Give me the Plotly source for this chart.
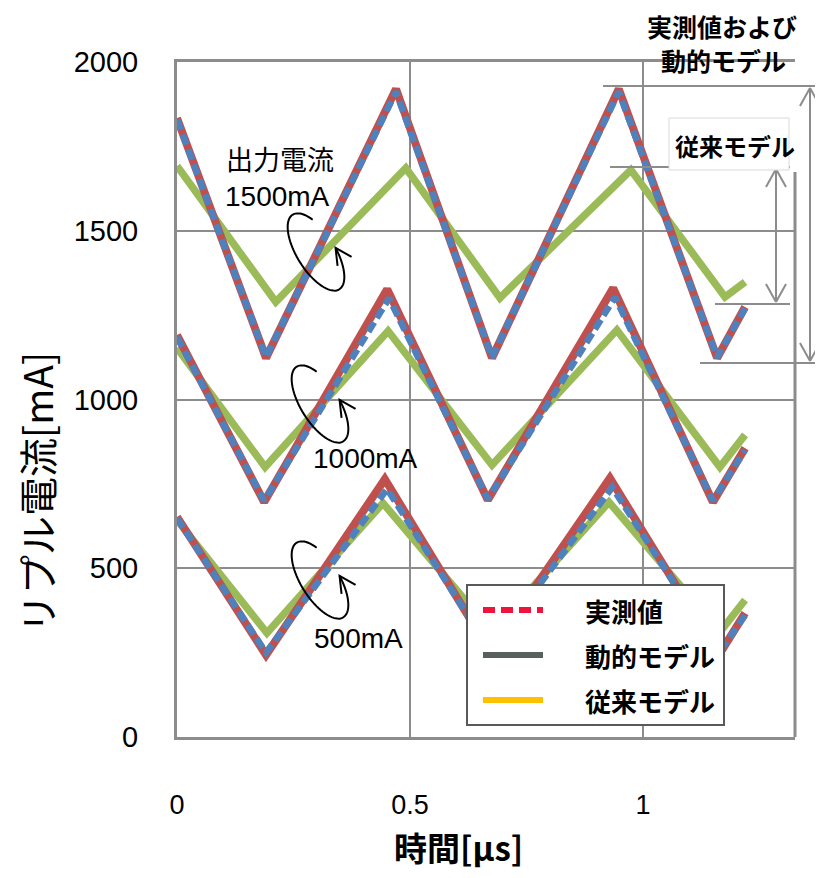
import numpy as np
import plotly.graph_objects as go

# ---------------- data ----------------
# time [us], ripple current [mA]
t_meas_1500 = [0, 0.191, 0.470, 0.676, 0.948, 1.159, 1.219]
i_meas_1500 = [1834, 1123, 1920, 1123, 1920, 1123, 1274]
t_dyn_1500 = [0, 0.191, 0.470, 0.676, 0.948, 1.159, 1.219]
i_dyn_1500 = [1830, 1125, 1912, 1125, 1912, 1125, 1270]
t_conv_1500 = [0, 0.212, 0.491, 0.693, 0.974, 1.176, 1.219]
i_conv_1500 = [1692, 1289, 1686, 1301, 1680, 1304, 1348]

t_meas_1000 = [0, 0.187, 0.451, 0.667, 0.936, 1.150, 1.219]
i_meas_1000 = [1191, 696, 1327, 702, 1330, 696, 856]
t_dyn_1000 = [0, 0.187, 0.455, 0.667, 0.940, 1.150, 1.219]
i_dyn_1000 = [1185, 700, 1300, 705, 1303, 700, 850]
t_conv_1000 = [0, 0.189, 0.453, 0.676, 0.944, 1.165, 1.219]
i_conv_1000 = [1153, 800, 1203, 806, 1206, 800, 895]

t_meas_500 = [0, 0.191, 0.446, 0.672, 0.929, 1.163, 1.219]
i_meas_500 = [652, 243, 764, 252, 767, 243, 367]
t_dyn_500 = [0, 0.191, 0.451, 0.672, 0.934, 1.163, 1.219]
i_dyn_500 = [648, 250, 735, 256, 740, 250, 360]
t_conv_500 = [0, 0.193, 0.442, 0.676, 0.927, 1.165, 1.219]
i_conv_500 = [643, 308, 693, 311, 696, 311, 406]

x_ticks = [0, 0.5, 1]
x_ticktext = ["0", "0.5", "1"]
y_ticks = [0, 500, 1000, 1500, 2000]

legend_names = ["実測値", "動的モデル", "従来モデル"]
legend_colors = ["#F0143C", "#58605F", "#FFC000"]

# ---------------- styling ----------------
RED = "#C0504D"
BLUE = "#4F81BD"
GREEN = "#9BBB59"
GRID = "#8C8C8C"
CJK = "Noto Sans CJK JP"
LAT = "Liberation Sans"
OFF = 8                          # page body margin
W, H = 823 - 2 * OFF, 878 - 2 * OFF
L, R, T, B = 177, 795, 62, 737   # plot area in page pixels
XMAX = 815                       # right edge of drawable page area


def P(px, py):
    return (px - L) / (R - L), (B - py) / (B - T)


fig = go.Figure()

for tc, ic in [(t_conv_1500, i_conv_1500), (t_conv_1000, i_conv_1000), (t_conv_500, i_conv_500)]:
    fig.add_trace(go.Scatter(x=tc, y=ic, mode="lines", line=dict(color=GREEN, width=7.5),
                             showlegend=False, hoverinfo="skip"))
for tm, im in [(t_meas_1500, i_meas_1500), (t_meas_1000, i_meas_1000), (t_meas_500, i_meas_500)]:
    fig.add_trace(go.Scatter(x=tm, y=im, mode="lines", line=dict(color=RED, width=8),
                             showlegend=False, hoverinfo="skip"))
for td, idn in [(t_dyn_1500, i_dyn_1500), (t_dyn_1000, i_dyn_1000), (t_dyn_500, i_dyn_500)]:
    fig.add_trace(go.Scatter(x=td, y=idn, mode="lines", line=dict(color=BLUE, width=6.5, dash="11px,5px"),
                             showlegend=False, hoverinfo="skip"))

shapes = []
annotations = []


def line(x0, y0, x1, y1, color=GRID, width=2):
    a = P(x0, y0)
    b = P(x1, y1)
    shapes.append(dict(type="line", xref="paper", yref="paper", x0=a[0], y0=a[1], x1=b[0], y1=b[1],
                       line=dict(color=color, width=width)))


# right border (partial, as in the reference)
line(R, 172, R, B, GRID, 3)

# loops with arrows around each family of curves
for cx, cy in [(316, 252), (320, 404), (320, 580)]:
    a, b, th = 44, 19, np.deg2rad(58)
    u = np.array([np.cos(th), np.sin(th)])
    v = np.array([-np.sin(th), np.cos(th)])
    ts = np.linspace(1.27 * np.pi, -0.45 * np.pi, 70)
    pts = [np.array([cx, cy]) + a * np.cos(t) * u + b * np.sin(t) * v for t in ts]
    path = ""
    for k, p in enumerate(pts):
        q = P(p[0], p[1])
        path += ("M" if k == 0 else "L") + f"{q[0]:.5f},{q[1]:.5f} "
    shapes.append(dict(type="path", xref="paper", yref="paper", path=path,
                       line=dict(color="black", width=2)))
    tip = pts[-1]
    h1 = P(tip[0] + 16, tip[1] + 9)
    h2 = P(tip[0] + 2, tip[1] + 18)
    tq = P(tip[0], tip[1])
    shapes.append(dict(type="path", xref="paper", yref="paper",
                       path=f"M{h1[0]:.5f},{h1[1]:.5f} L{tq[0]:.5f},{tq[1]:.5f} L{h2[0]:.5f},{h2[1]:.5f}",
                       line=dict(color="black", width=2)))

# amplitude markers on the right
line(603, 86, XMAX, 86)
line(610, 167, 790, 167)
line(715, 304, 790, 304)
line(700, 363, XMAX, 363)
for ax, y0, y1 in [(776, 169, 302), (810, 88, 361)]:
    line(ax, y0, ax, y1)
    line(ax - 10, y0 + 18, ax, y0)
    line(ax + 10, y0 + 18, ax, y0)
    line(ax - 10, y1 - 18, ax, y1)
    line(ax + 10, y1 - 18, ax, y1)

# box behind "従来モデル"
a0 = P(669, 118)
a1 = P(789, 170)
shapes.append(dict(type="rect", xref="paper", yref="paper", x0=a0[0], y0=a1[1], x1=a1[0], y1=a0[1],
                   fillcolor="white", line=dict(color="#D9D9D9", width=1), layer="above"))

# manual legend box
b0 = P(467, 585)
b1 = P(724, 725)
shapes.append(dict(type="rect", xref="paper", yref="paper", x0=b0[0], y0=b1[1], x1=b1[0], y1=b0[1],
                   fillcolor="white", line=dict(color="#595959", width=2), layer="above"))
for k, (name, col) in enumerate(zip(legend_names, legend_colors)):
    yy = 610 + k * 45
    s0 = P(483, yy)
    s1 = P(543, yy)
    shapes.append(dict(type="line", xref="paper", yref="paper", x0=s0[0], y0=s0[1], x1=s1[0], y1=s1[1],
                       line=dict(color=col, width=6, dash="12px,6px" if k == 0 else "solid"), layer="above"))
    tp = P(583, yy)
    annotations.append(dict(text=f"<b>{name}</b>", xref="paper", yref="paper", x=tp[0], y=tp[1],
                            xanchor="left", yanchor="middle", showarrow=False,
                            font=dict(family=CJK, size=26, color="black")))


def text(s, px, py, size, bold=False, anchor="center", family=CJK):
    q = P(px, py)
    annotations.append(dict(text=f"<b>{s}</b>" if bold else s, xref="paper", yref="paper", x=q[0], y=q[1],
                            xanchor=anchor, yanchor="middle", showarrow=False,
                            font=dict(family=family, size=size, color="black")))


text("出力電流", 280, 158, 27)
text("1500mA", 277, 196, 28, family=LAT)
text("1000mA", 365, 458, 28, family=LAT)
text("500mA", 358, 638, 28, family=LAT)
text("実測値および", 722, 26, 25, bold=True)
text("動的モデル", 723, 60, 25, bold=True)
text("従来モデル", 735, 145, 24, bold=True)

# axis titles
q = P(36, 493)
annotations.append(dict(text="リプル電流[mA]", xref="paper", yref="paper", x=q[0], y=q[1],
                        textangle=-90, showarrow=False, xanchor="center", yanchor="middle",
                        font=dict(family=CJK, size=39, color="black")))
q = P(458, 847)
annotations.append(dict(text="<b>時間[µs]</b>", xref="paper", yref="paper", x=q[0], y=q[1],
                        showarrow=False, xanchor="center", yanchor="middle",
                        font=dict(family=CJK, size=33, color="black")))

fig.update_layout(
    width=W, height=H,
    margin=dict(l=L - OFF, r=W - (R - OFF), t=T - OFF, b=H - (B - OFF)),
    paper_bgcolor="white", plot_bgcolor="white",
    showlegend=False,
    shapes=shapes, annotations=annotations,
    xaxis=dict(range=[0, (R - L) / 466], tickvals=x_ticks, ticktext=x_ticktext,
               showgrid=True, gridcolor=GRID, gridwidth=2, zeroline=False,
               showline=True, linecolor=GRID, linewidth=3, mirror=True, ticks="",
               ticklabelstandoff=42,
               tickfont=dict(family=LAT, size=27, color="black")),
    yaxis=dict(range=[0, 2000], tickvals=y_ticks,
               showgrid=True, gridcolor=GRID, gridwidth=2, zeroline=False,
               showline=True, linecolor=GRID, linewidth=3, mirror=False, ticks="",
               ticklabelstandoff=30,
               tickfont=dict(family=LAT, size=29, color="black")),
)

fig.write_html("out.html")
